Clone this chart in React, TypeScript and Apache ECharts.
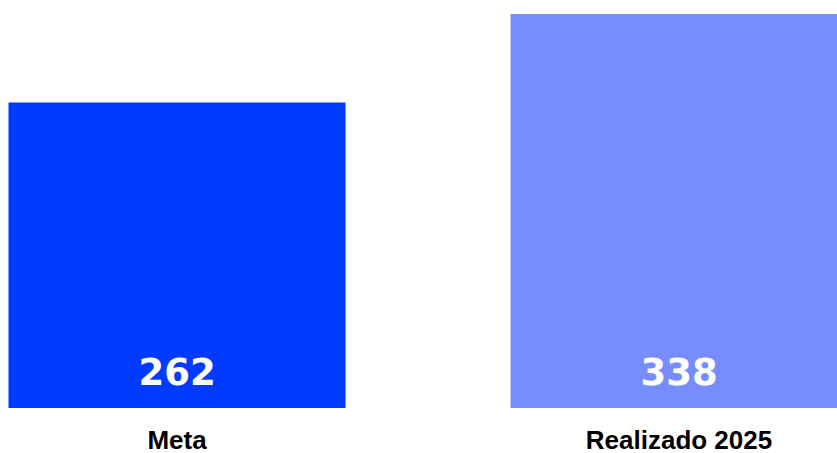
import React, { useEffect, useRef } from "react";
import * as echarts from "echarts";

const categories = ["Meta", "Realizado 2025"];
const values = [262, 338];
const colors = ["#003BFF", "#778CFF"];

export default function App() {
  const ref = useRef<HTMLDivElement>(null);
  useEffect(() => {
    if (!ref.current) return;
    const chart = echarts.init(ref.current, null, { renderer: "svg" });
    chart.setOption({
      animation: false,
      grid: { left: 0, right: 0, top: 14, bottom: 43, containLabel: false },
      xAxis: {
        type: "category",
        data: categories,
        axisLine: { show: false },
        axisTick: { show: false },
        axisLabel: {
          color: "#000",
          fontFamily: "Liberation Sans, Arial, sans-serif",
          fontWeight: "bold",
          fontSize: 26,
          lineHeight: 20,
          margin: 22,
        },
      },
      yAxis: {
        type: "value",
        min: 0,
        max: 338,
        show: false,
        splitLine: { show: false },
      },
      series: [
        {
          type: "bar",
          barWidth: 337,
          data: values.map((v, i) => ({ value: v, itemStyle: { color: colors[i] } })),
          label: {
            show: true,
            position: "insideBottom",
            distance: 17,
            color: "#fff",
            fontFamily: "DejaVu Sans, sans-serif",
            fontWeight: "bold",
            fontSize: 37,
          },
        },
      ],
    });
    return () => chart.dispose();
  }, []);
  return (
    <div
      style={{
        position: "absolute",
        left: 0,
        top: 0,
        width: 837,
        height: 453,
        overflow: "hidden",
      }}
    >
      <div
        ref={ref}
        style={{ position: "absolute", left: -74, top: 0, width: 1004, height: 453 }}
      />
    </div>
  );
}
